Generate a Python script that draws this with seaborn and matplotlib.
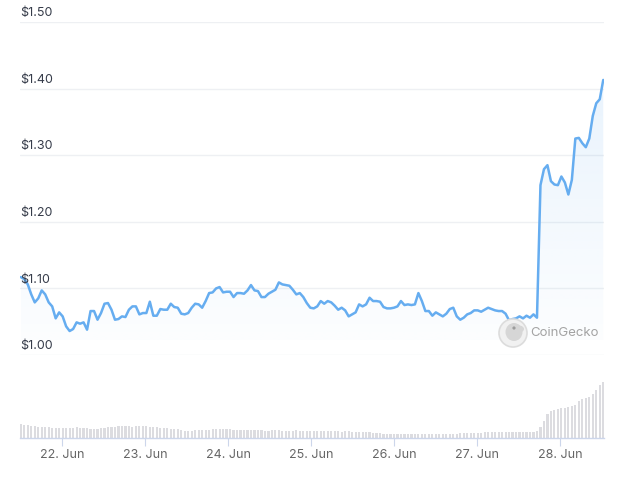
import numpy as np
import pandas as pd
import matplotlib
matplotlib.use("Agg")
import matplotlib.pyplot as plt
import matplotlib.dates as mdates
from matplotlib.patches import Circle, Ellipse
import seaborn as sns

# ---------------- data ----------------
start_time = "2024-06-21 12:00"
end_time = "2024-06-28 12:25"

prices = [
    1.117, 1.114, 1.106, 1.091, 1.079, 1.085, 1.097, 1.091, 1.079, 1.073,
    1.055, 1.064, 1.058, 1.043, 1.036, 1.039, 1.049, 1.047, 1.049, 1.038,
    1.066, 1.066, 1.053, 1.063, 1.077, 1.078, 1.068, 1.053, 1.054, 1.058,
    1.057, 1.068, 1.073, 1.073, 1.061, 1.063, 1.063, 1.080, 1.059, 1.059,
    1.069, 1.068, 1.068, 1.077, 1.072, 1.071, 1.062, 1.061, 1.063, 1.071,
    1.077, 1.076, 1.071, 1.081, 1.093, 1.094, 1.100, 1.102, 1.094, 1.095,
    1.095, 1.087, 1.093, 1.093, 1.092, 1.097, 1.105, 1.097, 1.096, 1.087,
    1.087, 1.092, 1.095, 1.098, 1.109, 1.106, 1.105, 1.104, 1.098, 1.091,
    1.093, 1.087, 1.078, 1.071, 1.070, 1.073, 1.081, 1.077, 1.081, 1.079,
    1.074, 1.068, 1.071, 1.067, 1.058, 1.061, 1.064, 1.076, 1.073, 1.076,
    1.086, 1.081, 1.081, 1.080, 1.072, 1.070, 1.070, 1.071, 1.073, 1.081,
    1.075, 1.076, 1.075, 1.076, 1.093, 1.081, 1.066, 1.066, 1.059, 1.064,
    1.061, 1.058, 1.062, 1.069, 1.071, 1.058, 1.053, 1.056, 1.061, 1.063,
    1.067, 1.067, 1.065, 1.068, 1.071, 1.069, 1.067, 1.066, 1.066, 1.062,
    1.052, 1.054, 1.055, 1.058, 1.055, 1.059, 1.056, 1.061, 1.056, 1.255,
    1.279, 1.285, 1.261, 1.256, 1.255, 1.268, 1.259, 1.241, 1.263, 1.325,
    1.326, 1.318, 1.312, 1.325, 1.359, 1.378, 1.384, 1.413,
]

volumes = [
    14, 13, 13, 12,
    12, 11, 11, 11, 11, 10, 10, 10,
    10, 10, 10, 10, 11, 10, 10, 10, 9, 9, 9,
    10, 10, 11, 11, 11, 12, 12, 12, 12, 11, 12, 12,
    12, 12, 11, 11, 11, 10, 10, 10, 9, 9, 9,
    8, 7, 7, 7, 8, 8,
    8, 8, 8, 9, 9, 9, 9, 9, 9, 8, 8,
    8, 8, 8, 8, 8, 8, 8, 7, 7, 8, 8, 8,
    7, 7, 7, 7, 8, 7, 7, 7, 7, 7, 7, 7,
    7, 7, 7, 7, 7, 6, 7, 7, 6, 6, 6, 6,
    6, 6, 5, 5, 5, 4, 4, 4, 4, 4, 4,
    4, 4, 4, 4, 4, 4, 4, 4, 4, 4, 4, 4,
    4, 4, 4, 4, 5, 5, 5, 5, 5, 5, 5,
    6, 6, 6, 6, 6, 6, 6, 6, 6, 6, 6, 6, 6, 6, 6,
    7, 11,
    17, 24, 27, 28, 29, 30, 30, 31, 32, 33, 37, 39, 40, 41, 44, 48, 53, 56,
]

price_ticks = [1.00, 1.10, 1.20, 1.30, 1.40, 1.50]
price_tick_labels = ["$1.00", "$1.10", "$1.20", "$1.30", "$1.40", "$1.50"]
day_ticks = pd.date_range("2024-06-22", "2024-06-28", freq="D")

times = pd.date_range(start_time, end_time, periods=len(prices))
df = pd.DataFrame({"time": times, "price": prices, "volume": volumes})

# ---------------- style ----------------
sns.set_theme(style="white")
plt.rcParams["font.family"] = ["Inter", "DejaVu Sans"]

W, H = 624, 479
fig = plt.figure(figsize=(W / 100, H / 100), dpi=100)
fig.patch.set_facecolor("white")

LINE = "#66adf0"
GRID = "#eef0f3"
AXIS = "#ccd6eb"

x_left_px, x_right_px = 20, 604
tick22_px, day_px = 62.3, 83.0
d22 = mdates.date2num(pd.Timestamp("2024-06-22"))
xmin = d22 - (tick22_px - x_left_px) / day_px
xmax = d22 + (x_right_px - tick22_px) / day_px

def fx(px):
    return px / W

def fy(py):
    return 1 - py / H

# price axes: y=22px -> 1.50, y=355px -> 1.00
axp = fig.add_axes([fx(x_left_px), fy(355), fx(x_right_px - x_left_px), (355 - 22) / H])
axp.set_xlim(xmin, xmax)
axp.set_ylim(1.0, 1.5)
for s in axp.spines.values():
    s.set_visible(False)
axp.set_xticks([])
axp.set_yticks([])
axp.patch.set_alpha(0)

for v, lab in zip(price_ticks, price_tick_labels):
    axp.axhline(v, color=GRID, lw=1.0, zorder=0)
    axp.annotate(lab, xy=(0, v), xycoords=("axes fraction", "data"),
                 xytext=(0, 2), textcoords="offset points",
                 ha="left", va="bottom", fontsize=9, color="#363c4a", zorder=6)

# gradient area fill
base = 1.022
tnum = mdates.date2num(df["time"])
poly = axp.fill_between(tnum, df["price"], base, facecolor="none", edgecolor="none")
grad = np.zeros((256, 1, 4))
rgb = matplotlib.colors.to_rgb(LINE)
grad[..., 0], grad[..., 1], grad[..., 2] = rgb
grad[:, 0, 3] = np.linspace(0.17, 0.02, 256)
im = axp.imshow(grad, extent=[tnum[0], tnum[-1], base, 1.5], origin="upper",
                aspect="auto", zorder=1, interpolation="bilinear")
im.set_clip_path(poly.get_paths()[0], transform=axp.transData)
axp.set_xlim(xmin, xmax)
axp.set_ylim(1.0, 1.5)

sns.lineplot(x=tnum, y=df["price"], ax=axp, color=LINE, linewidth=1.8, zorder=3)
axp.set_xlabel("")
axp.set_ylabel("")
axp.set_xlim(xmin, xmax)
axp.set_ylim(1.0, 1.5)

# watermark
cx, cy = 513, 333
wm = fig.add_axes([0, 0, 1, 1])
wm.set_xlim(0, W)
wm.set_ylim(H, 0)
wm.axis("off")
wm.patch.set_alpha(0)
wm.add_patch(Circle((cx, cy), 14, facecolor="#f1f1f1", edgecolor="#dcdcdc", lw=1.2, zorder=4))
wm.add_patch(Ellipse((cx + 1, cy - 1), 17, 18, facecolor="#d6d6d6", edgecolor="none", zorder=5))
wm.add_patch(Ellipse((cx + 6, cy - 4), 10, 7, facecolor="#d6d6d6", edgecolor="none", zorder=5))
wm.add_patch(Circle((cx + 1, cy - 5), 1.6, facecolor="#9c9c9c", edgecolor="none", zorder=6))
wm.text(530, cy, "CoinGecko", fontsize=9.5, color="#a3a3a3", ha="left", va="center", zorder=6)

# volume axes: baseline at y=438px, 100px tall
axv = fig.add_axes([fx(x_left_px), fy(438), fx(x_right_px - x_left_px), 100 / H])
axv.patch.set_alpha(0)
spacing = (tnum[-1] - tnum[0]) / (len(tnum) - 1)
axv.bar(tnum, df["volume"], width=spacing * 0.62, color="#dcdce0", align="center",
        linewidth=0, zorder=1)
axv.set_xlim(xmin, xmax)
axv.set_ylim(0, 100)
for k in ["top", "left", "right"]:
    axv.spines[k].set_visible(False)
axv.spines["bottom"].set_color(AXIS)
axv.spines["bottom"].set_linewidth(1.0)
axv.set_yticks([])
axv.set_xticks(mdates.date2num(day_ticks))
axv.set_xticklabels([d.strftime("%-d. %b") for d in day_ticks])
axv.tick_params(axis="x", direction="out", length=6, width=0.8, color=AXIS,
                labelsize=9, labelcolor="#666666", pad=2, bottom=True)
axv.grid(False)

fig.savefig("out.png", dpi=100, facecolor="white")
